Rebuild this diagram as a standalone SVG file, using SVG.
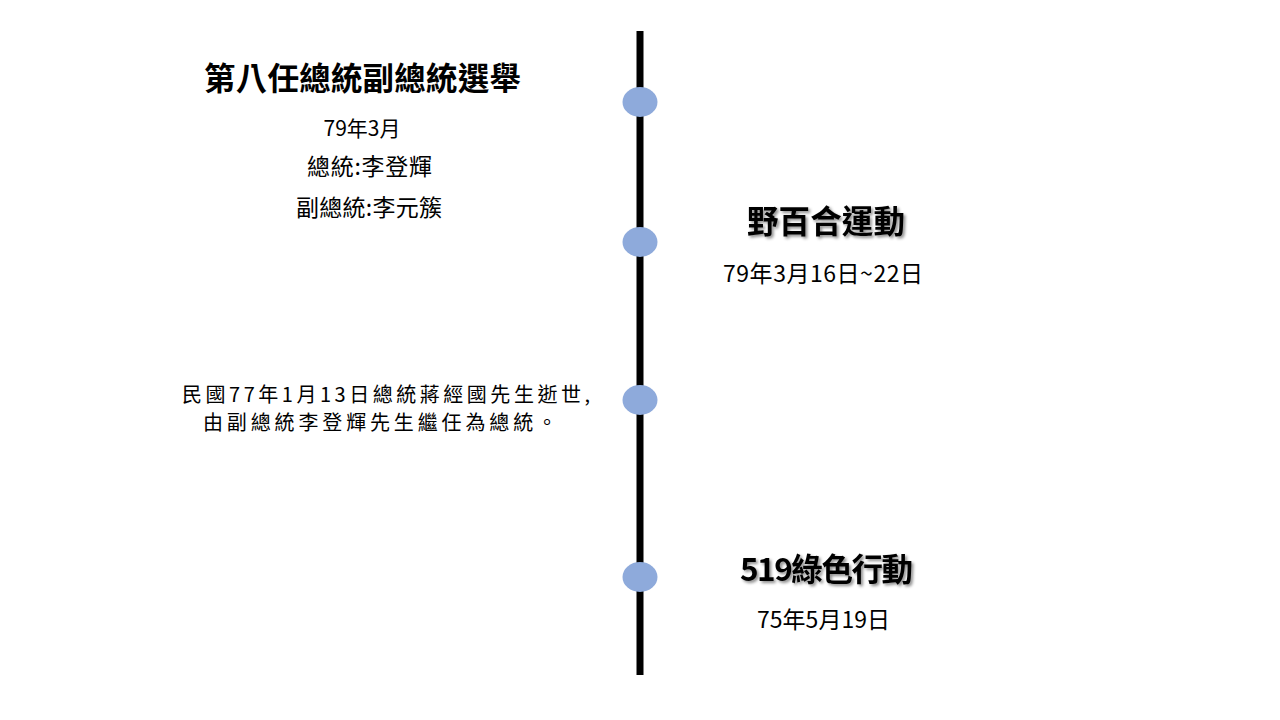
<svg xmlns="http://www.w3.org/2000/svg" width="1280" height="720" viewBox="0 0 1280 720">
<defs>
<filter id="sh" x="-10%" y="-30%" width="120%" height="160%">
<feDropShadow dx="2" dy="2" stdDeviation="1.5" flood-color="#000" flood-opacity="0.45"/>
</filter>
<style>
.t{font-family:"Noto Sans CJK TC","Noto Sans CJK SC",sans-serif;fill:#000;text-anchor:middle}
.h{font-size:31.5px;font-weight:bold}
.b{font-size:23px}
.s{font-size:21px}
.m{font-size:20px}
.dot{fill:#8eaadb}
</style>
</defs>
<rect width="1280" height="720" fill="#fff"/>
<g id="connectors">
<line x1="640" y1="31" x2="640" y2="675" stroke="#000" stroke-width="7"/>
</g>
<g id="n1">
<ellipse class="dot" cx="640" cy="102" rx="17.5" ry="15"/>
<text class="t h" x="362.5" y="90" textLength="317">第八任總統副總統選舉</text>
<text class="t s" x="362" y="136">79年3月</text>
<text class="t b" x="369.5" y="175" textLength="125">總統:李登輝</text>
<text class="t b" x="369" y="216" textLength="146">副總統:李元簇</text>
</g>
<g id="n2">
<ellipse class="dot" cx="640" cy="242" rx="17.5" ry="15"/>
<text class="t h" x="826" y="233" textLength="158" filter="url(#sh)">野百合運動</text>
<text class="t b" x="823" y="282" textLength="200">79年3月16日~22日</text>
</g>
<g id="n3">
<ellipse class="dot" cx="640" cy="400" rx="17.5" ry="15"/>
<text class="t m" x="386" y="402" textLength="408">民國77年1月13日總統蔣經國先生逝世,</text>
<text class="t m" x="380" y="430" textLength="354">由副總統李登輝先生繼任為總統。</text>
</g>
<g id="n4">
<ellipse class="dot" cx="640" cy="577" rx="17.5" ry="15"/>
<text class="t h" x="826.5" y="581" textLength="173" filter="url(#sh)">519綠色行動</text>
<text class="t b" x="823.5" y="628" textLength="133">75年5月19日</text>
</g>
</svg>
